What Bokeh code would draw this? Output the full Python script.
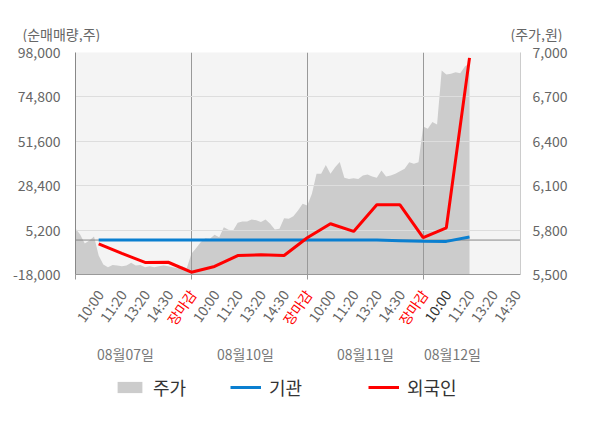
import math
from bokeh.plotting import figure
from bokeh.layouts import column
from bokeh.models import (Range1d, LinearAxis, FixedTicker, NumeralTickFormatter, Span,
                          ColumnDataSource, Legend, LegendItem)
from bokeh.core.properties import value
from bokeh.embed import file_html
from bokeh.resources import INLINE

FONT = "Noto Sans CJK KR"
NAN = float("nan")

# ---------------- data ----------------
days = ["08월07일", "08월10일", "08월11일", "08월12일"]
slot_labels = ["10:00", "11:20", "13:20", "14:30", "장마감"]
left_ticks = [-18000, 5200, 28400, 51600, 74800, 98000]
right_ticks = [5500, 5800, 6100, 6400, 6700, 7000]

# 주가 (price, won): one value every 1/5 of a label slot
price_d1 = [5811, 5770, 5709, 5730, 5757, 5628, 5568, 5549, 5565, 5561, 5556, 5561, 5579,
            5561, 5565, 5549, 5556, 5549, 5556, 5561, 5556, 5549, 5543, 5556, 5543]
price_d2 = [5640, 5678, 5718, 5745, 5741, 5768, 5752, 5820, 5802, 5797, 5849, 5858, 5858,
            5872, 5867, 5854, 5872, 5843, 5804, 5809, 5880, 5876, 5894, 5932, 5978]
price_d3 = [5966, 6045, 6180, 6180, 6240, 6180, 6225, 6260, 6153, 6146, 6150, 6146, 6169,
            6175, 6162, 6153, 6203, 6162, 6169, 6180, 6198, 6214, 6259, 6248, 6259]
price_d4 = [6500, 6484, 6530, 6514, 6878, 6851, 6856, 6867, 6860, 6905, 6928]

# 외국인 / 기관 net buy (shares) at each time label
foreign = [-2000, -7000, -11700, -11600, -16800, -13800, -8100, -7700, -8100, 1200,
           8500, 4500, 18400, 18400, 1300, 6400, 95200]
inst = [0, 0, 0, 0, 0, 0, 0, 0, 0, 0, 0, 0, 0, -300, -600, -700, 1600]

series_names = ["주가", "기관", "외국인"]
colors = {"주가": "#cccccc", "기관": "#0a7fd0", "외국인": "#ff0000"}

# ---------------- layout constants ----------------
SLOTS_PER_DAY = 5
SUB = 5                    # price samples per slot
X_MAX = 19.2
Y0, Y1 = -18000, 98000
P0, P1 = 5500, 7000
W = 600
TOP_H, MAIN_H, BOT_H = 42, 243, 143
ML, MR, MT, MB = 75, 80, 10, 11
frame_w = W - ML - MR
slot_px = frame_w / X_MAX


def px_to_slot(px):
    return (px - ML) / slot_px


full_x = (px_to_slot(0), px_to_slot(W))

price = price_d1 + price_d2 + price_d3 + price_d4
px_x = [i / SUB for i in range(len(price))]
line_x = list(range(1, len(foreign) + 1))

# ================= main chart =================
p = figure(width=W, height=MAIN_H, x_range=Range1d(0, X_MAX), y_range=Range1d(Y0, Y1),
           output_backend="svg", toolbar_location=None,
           min_border_left=ML, min_border_right=MR, min_border_top=MT, min_border_bottom=MB,
           background_fill_color="#f4f4f4", border_fill_color="white",
           outline_line_color=None)
p.extra_y_ranges = {"price": Range1d(P0, P1)}

ya = p.yaxis[0]
ya.ticker = FixedTicker(ticks=left_ticks)
ya.formatter = NumeralTickFormatter(format="0,0")
ya.major_tick_line_color = None
ya.minor_tick_line_color = None
ya.axis_line_color = "#888888"
ya.major_label_text_color = "#666666"
ya.major_label_text_font = FONT
ya.major_label_text_font_size = "14px"
ya.major_label_standoff = 9

ra = LinearAxis(y_range_name="price", ticker=FixedTicker(ticks=right_ticks),
                formatter=NumeralTickFormatter(format="0,0"))
ra.major_tick_line_color = None
ra.minor_tick_line_color = None
ra.axis_line_color = "#cccccc"
ra.major_label_text_color = "#666666"
ra.major_label_text_font = FONT
ra.major_label_text_font_size = "14px"
ra.major_label_standoff = 6
p.add_layout(ra, "right")

day_bounds = [d * SLOTS_PER_DAY for d in range(len(days))]
xa = p.xaxis[0]
xa.ticker = FixedTicker(ticks=day_bounds)
xa.major_label_overrides = {b: "" for b in day_bounds}
xa.major_label_text_font_size = "0px"
xa.major_label_standoff = 0
xa.major_tick_out = 5
xa.major_tick_in = 0
xa.major_tick_line_color = "#999999"
xa.minor_tick_line_color = None
xa.axis_line_color = "#999999"

p.xgrid.ticker = FixedTicker(ticks=day_bounds[1:])
p.xgrid.grid_line_color = "#999999"
p.ygrid.ticker = FixedTicker(ticks=left_ticks[1:-1])
p.ygrid.grid_line_color = "#dddddd"

src = ColumnDataSource(dict(x=px_x, price=price))
p.varea(x="x", y1=P0, y2="price", source=src, y_range_name="price",
        fill_color=colors["주가"], level="image")
p.add_layout(Span(location=0, dimension="width", line_color="#888888", line_width=1,
                  level="underlay"))
p.line(line_x, inst, line_color=colors["기관"], line_width=3)
p.line(line_x, foreign, line_color=colors["외국인"], line_width=3)


def strip(height):
    f = figure(width=W, height=height, x_range=Range1d(*full_x), y_range=Range1d(height, 0),
               output_backend="svg", toolbar_location=None, x_axis_type=None,
               y_axis_type=None, min_border=0, outline_line_color=None,
               background_fill_color="white", border_fill_color="white")
    f.frame_align = False
    f.grid.visible = False
    return f


# ================= axis titles strip =================
t = strip(TOP_H)
t.text(x=[px_to_slot(22), px_to_slot(510)], y=[33, 33], text=["(순매매량,주)", "(주가,원)"],
       text_color="#666666", text_font=value(FONT), text_font_size="14px",
       text_align="left", text_baseline="middle")

# ================= x labels + legend strip =================
b = strip(BOT_H)
tx, tt, tc = [], [], []
for d in range(len(days)):
    for k, lab in enumerate(slot_labels):
        s = d * SLOTS_PER_DAY + k + 1
        if s > X_MAX:
            continue
        tx.append(s)
        tt.append(lab)
        if lab == "장마감":
            tc.append("#ff0000")
        elif d == len(days) - 1 and k == 0:
            tc.append("#333333")
        else:
            tc.append("#666666")
tsrc = ColumnDataSource(dict(x=tx, y=[6] * len(tx), text=tt, color=tc))
b.text(x="x", y="y", text="text", text_color="color", source=tsrc,
       angle=math.radians(55), text_align="right", text_baseline="middle", x_offset=1,
       text_font=value(FONT), text_font_size="14px")

day_label_px = [125, 245, 365, 452]
b.text(x=[px_to_slot(v) for v in day_label_px], y=[68] * len(days), text=days,
       text_color="#777777", text_align="center", text_baseline="middle",
       text_font=value(FONT), text_font_size="14px")

# legend swatch renderers (hold no visible data)
proxy = {
    "주가": b.varea(x=[NAN], y1=[NAN], y2=[NAN], fill_color=colors["주가"]),
    "기관": b.line(x=[NAN], y=[NAN], line_color=colors["기관"], line_width=3),
    "외국인": b.line(x=[NAN], y=[NAN], line_color=colors["외국인"], line_width=3),
}
legend_px = [114, 230, 368]
for name, gx in zip(series_names, legend_px):
    lg = Legend(items=[LegendItem(label=name, renderers=[proxy[name]])],
                location=(gx, 28), orientation="horizontal",
                glyph_width=31, glyph_height=14, label_height=24,
                label_text_font=FONT, label_text_font_size="18px",
                label_text_color="#333333", label_standoff=8,
                padding=0, margin=0, spacing=0,
                border_line_alpha=0, background_fill_alpha=0)
    b.add_layout(lg, "center")

open("out.html", "w").write(file_html(column(t, p, b), INLINE))
